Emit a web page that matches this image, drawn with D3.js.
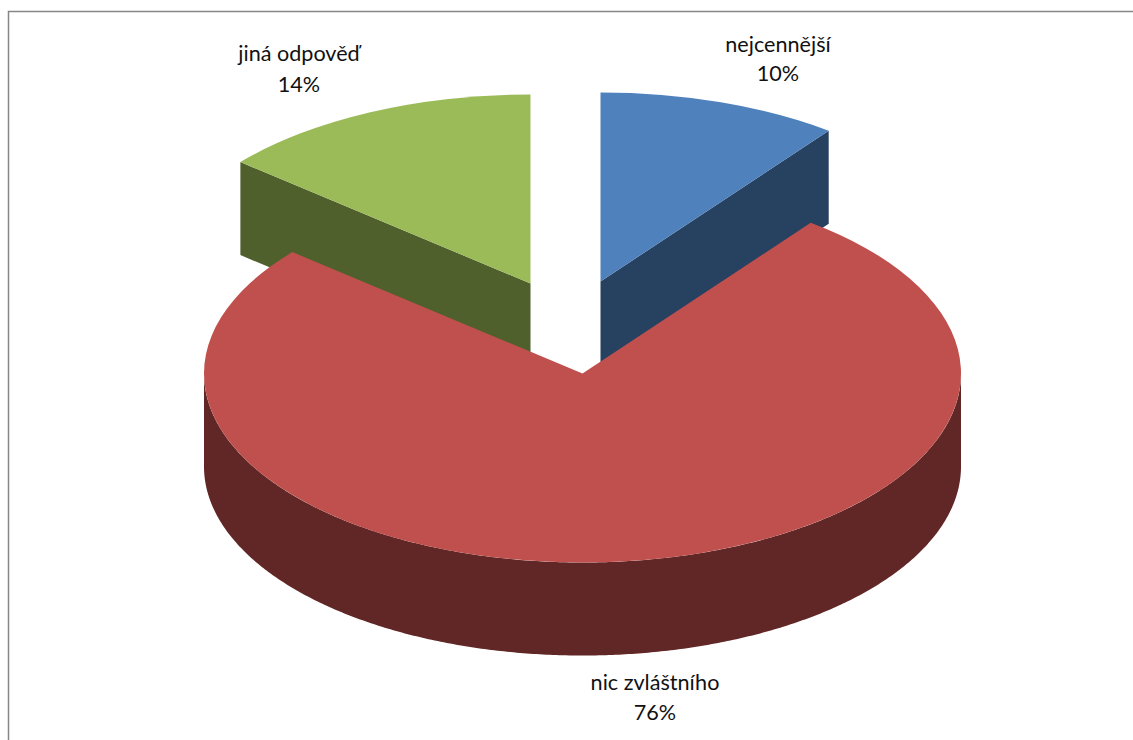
<!DOCTYPE html>
<html>
<head>
<meta charset="utf-8">
<script src="https://cdn.jsdelivr.net/npm/d3@7"></script>
<style>
html,body{margin:0;padding:0;background:#fff;overflow:hidden}
svg{display:block}
text{font-family:Lato,"Open Sans",sans-serif;font-size:21.6px;fill:#111;text-anchor:middle}
</style>
</head>
<body>
<svg id="chart" width="1133" height="740"></svg>
<script>
const categories = ["nejcennější", "nic zvláštního", "jiná odpověď"];
const percentValues = [10.3, 75.8, 13.9];
const topColors = ["#4F81BD", "#C0504D", "#9BBB59"];
const wallColors = ["#274161", "#612726", "#4F602C"];
const explodeX = [18, 0, -52];
const explodeY = [-92, 0, -90];
const labelX = [778, 655, 299];
const labelY = [52, 690, 61];
const percentY = [81, 720, 92];

const W = 1133, H = 740;
const cx = 582.5, cy = 373.5, rx = 378.5, ry = 189, depth = 93;
const svg = d3.select("#chart");

svg.append("path")
  .attr("d", `M8.5,${H}V11.5H${W}`)
  .attr("fill", "none").attr("stroke", "#868686").attr("stroke-width", 1.5);

const slices = d3.pie().sort(null).startAngle(0).endAngle(2 * Math.PI)(percentValues)
  .map((s, i) => ({...s, i}));

const arcGen = d3.arc().innerRadius(0).outerRadius(rx);
const xS = i => d3.scaleLinear().domain([-1, 1]).range([cx + explodeX[i] - rx, cx + explodeX[i] + rx]);
const yS = i => d3.scaleLinear().domain([-1, 1]).range([cy + explodeY[i] - ry, cy + explodeY[i] + ry]);

// extruded wall following a list of [angle, radius] points
function wall(i, pts) {
  const x = xS(i), y = yS(i);
  return d3.area()
    .x(p => x(p[1] * Math.sin(p[0])))
    .y0(p => y(-p[1] * Math.cos(p[0])))
    .y1(p => y(-p[1] * Math.cos(p[0])) + depth)(pts);
}

// back slices first, the large front slice last
const order = [slices[0], slices[2], slices[1]];
order.forEach(s => {
  const g = svg.append("g");
  if (s.i === 1) {
    const a0 = Math.PI / 2, a1 = 3 * Math.PI / 2;
    g.append("path")
      .attr("d", wall(s.i, d3.range(a0, a1 + 0.001, (a1 - a0) / 360).map(a => [a, 1])))
      .attr("fill", wallColors[s.i]);
  } else {
    const edge = s.i === 0 ? s.endAngle : s.startAngle;
    g.append("path")
      .attr("d", wall(s.i, [[edge, 0], [edge, 1]]))
      .attr("fill", wallColors[s.i]);
  }
  g.append("path")
    .attr("transform", `translate(${cx + explodeX[s.i]},${cy + explodeY[s.i]}) scale(1,${ry / rx})`)
    .attr("d", arcGen(s))
    .attr("fill", topColors[s.i]);
});

slices.forEach(s => {
  svg.append("text").attr("x", labelX[s.i]).attr("y", labelY[s.i]).text(categories[s.i]);
  svg.append("text").attr("x", labelX[s.i]).attr("y", percentY[s.i]).text(d3.format(".0f")(s.value) + "%");
});
</script>
</body>
</html>
